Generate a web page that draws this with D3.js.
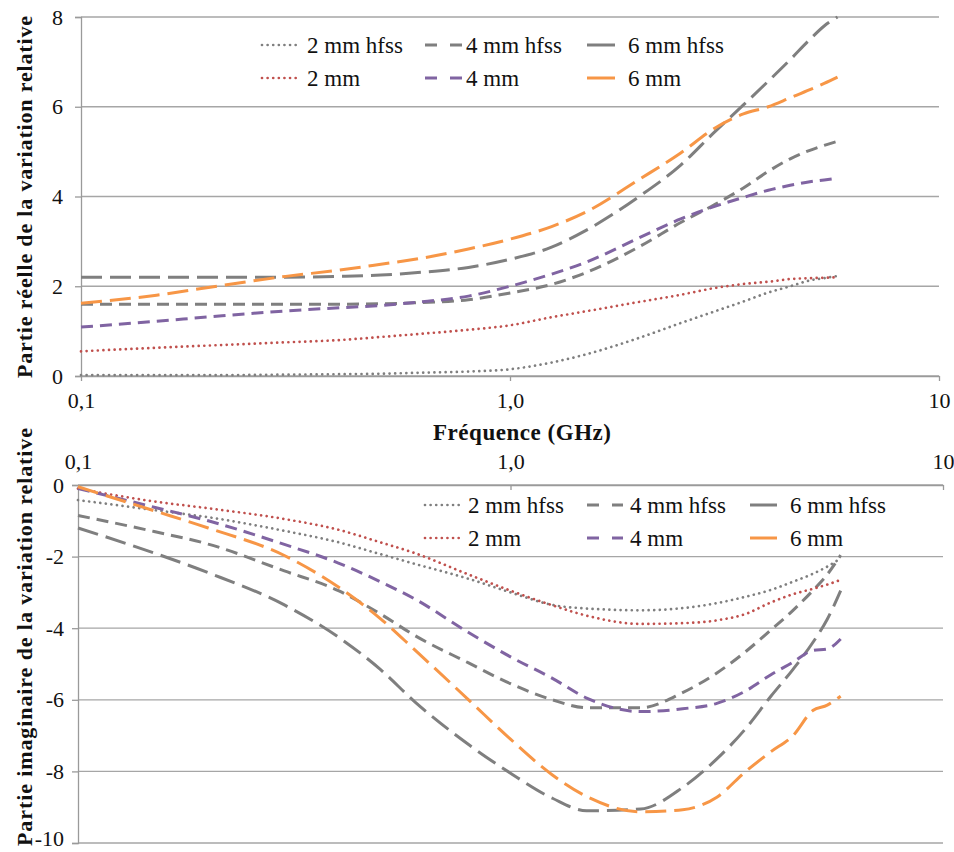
<!DOCTYPE html>
<html><head><meta charset="utf-8">
<script src="https://cdn.jsdelivr.net/npm/d3@7"></script>
<style>
html,body{margin:0;padding:0;background:#fff;}
svg{display:block;}
</style></head>
<body>
<svg id="chart" width="954" height="852"></svg>
<script>
// ---- data ----
const freqs = [0.1,0.15,0.2,0.3,0.4,0.5,0.6,0.8,1,1.25,1.5,2,2.5,3,3.5,4,4.5,5,5.4,5.8];
const seriesNames = ["2 mm hfss","4 mm hfss","6 mm hfss","2 mm","4 mm","6 mm"];
// real part
const re2hfss = [0.02,0.02,0.02,0.03,0.04,0.05,0.07,0.1,0.15,0.3,0.48,0.85,1.18,1.44,1.66,1.86,2.0,2.13,2.18,2.23];
const re4hfss = [1.6,1.6,1.6,1.6,1.6,1.61,1.63,1.7,1.85,2.04,2.3,2.88,3.42,3.82,4.19,4.56,4.84,5.03,5.14,5.23];
const re6hfss = [2.2,2.2,2.2,2.2,2.22,2.25,2.3,2.42,2.6,2.87,3.24,4.0,4.7,5.44,6.04,6.57,7.05,7.5,7.8,8.0];
const re2 = [0.55,0.63,0.68,0.75,0.8,0.87,0.93,1.03,1.13,1.31,1.44,1.65,1.81,1.96,2.05,2.1,2.16,2.18,2.19,2.2];
const re4 = [1.09,1.22,1.32,1.45,1.52,1.57,1.64,1.78,2.0,2.27,2.53,3.08,3.5,3.78,3.98,4.14,4.25,4.33,4.37,4.41];
const re6 = [1.62,1.8,1.98,2.22,2.36,2.49,2.6,2.83,3.05,3.33,3.65,4.38,4.97,5.52,5.84,6.0,6.2,6.38,6.52,6.66];
// imaginary part
const im2hfss = [-0.42,-0.7,-0.9,-1.28,-1.6,-1.93,-2.2,-2.62,-3.0,-3.35,-3.45,-3.5,-3.44,-3.3,-3.12,-2.93,-2.7,-2.48,-2.28,-2.05];
const im4hfss = [-0.85,-1.3,-1.65,-2.4,-2.95,-3.6,-4.2,-4.97,-5.55,-6.0,-6.22,-6.22,-5.8,-5.25,-4.65,-4.05,-3.5,-2.95,-2.5,-1.96];
const im6hfss = [-1.2,-1.9,-2.45,-3.35,-4.25,-5.15,-6.05,-7.25,-8.05,-8.75,-9.1,-9.05,-8.45,-7.65,-6.8,-5.9,-5.15,-4.4,-3.75,-2.95];
const im2 = [-0.1,-0.46,-0.65,-0.95,-1.25,-1.6,-1.9,-2.5,-2.95,-3.36,-3.65,-3.88,-3.86,-3.78,-3.6,-3.28,-3.05,-2.9,-2.78,-2.65];
const im4 = [-0.1,-0.62,-1.0,-1.66,-2.18,-2.7,-3.18,-4.12,-4.8,-5.4,-5.95,-6.33,-6.25,-6.1,-5.75,-5.3,-4.95,-4.62,-4.58,-4.3];
const im6 = [-0.05,-0.72,-1.2,-1.97,-2.85,-3.73,-4.6,-6.0,-7.1,-8.1,-8.7,-9.13,-9.07,-8.72,-8.0,-7.45,-7.0,-6.3,-6.15,-5.9];
// ticks
const xTickValues = [0.1,1,10];
const xTickLabels = ["0,1","1,0","10"];
const reTicks = [0,2,4,6,8];
const imTicks = [0,-2,-4,-6,-8,-10];
const reTitle = "Partie réelle de la variation relative";
const imTitle = "Partie imaginaire de la variation relative";
const xTitle = "Fréquence (GHz)";

// ---- styles ----
const FONT = '"Liberation Serif","Times New Roman",Times,"DejaVu Serif",serif';
const GREY = "#7f7f7f";
const styles = {
  "2 mm hfss": {color: GREY, dash: "0.01,5.6", cap: "round", w: 2.7, legDash: "0.01,5.6"},
  "4 mm hfss": {color: GREY, dash: "12,7", cap: "butt", w: 3, legDash: "12,13"},
  "6 mm hfss": {color: GREY, dash: "21,8", cap: "butt", w: 3, legDash: "40,0"},
  "2 mm": {color: "#c0504d", dash: "0.01,5.6", cap: "round", w: 2.7, legDash: "0.01,5.6"},
  "4 mm": {color: "#8064a2", dash: "12,7", cap: "butt", w: 3, legDash: "12,13"},
  "6 mm": {color: "#f79646", dash: "21,8", cap: "butt", w: 3, legDash: "40,0"}
};
const reSeries = [re2hfss, re4hfss, re6hfss, re2, re4, re6];
const imSeries = [im2hfss, im4hfss, im6hfss, im2, im4, im6];

const svg = d3.select("#chart").attr("font-family", FONT);
const gridColor = "#a6a6a6";
const axisColor = "#9a9a9a";

function panel(cfg){
  const x = d3.scaleLog().domain([0.1,10]).range([cfg.x0, cfg.x1]);
  const y = d3.scaleLinear().domain(cfg.ydom).range([cfg.yb, cfg.yt]);
  const g = svg.append("g");
  g.selectAll("line.grid").data(cfg.yticks).join("line")
    .attr("x1", cfg.x0).attr("x2", cfg.x1)
    .attr("y1", d => y(d)).attr("y2", d => y(d))
    .attr("stroke", gridColor).attr("stroke-width", 1.3);
  const yAxis = d3.axisLeft(y).tickValues(cfg.yticks).tickSize(6).tickPadding(cfg.ypad).tickFormat(d => String(d));
  const ya = g.append("g").attr("transform", `translate(${cfg.x0},0)`).call(yAxis).attr("font-family", FONT);
  ya.select(".domain").attr("stroke", axisColor).attr("stroke-width", 1.3);
  ya.selectAll(".tick line").attr("stroke", axisColor).attr("stroke-width", 1.3);
  ya.selectAll("text").attr("font-size", 22).attr("fill", "#111")
    .attr("dy", d => d === -10 ? "0.12em" : "0.32em");
  const xAxis = (cfg.xTop ? d3.axisTop(x) : d3.axisBottom(x))
    .tickValues(xTickValues).tickSizeInner(cfg.xTop ? -5 : 5).tickSizeOuter(0).tickPadding(cfg.xTop ? 16 : 11)
    .tickFormat((d,i) => xTickLabels[i]);
  const xa = g.append("g").attr("transform", `translate(0,${cfg.xAxisY})`).call(xAxis).attr("font-family", FONT);
  xa.select(".domain").attr("stroke", axisColor).attr("stroke-width", 1.3);
  xa.selectAll(".tick line").attr("stroke", axisColor).attr("stroke-width", 1.3);
  xa.selectAll("text").attr("font-size", 22).attr("fill", "#111");
  const line = d3.line().x(d => x(d[0])).y(d => y(d[1])).curve(d3.curveMonotoneX);
  seriesNames.forEach((name, i) => {
    const st = styles[name];
    const pts = freqs.map((f,k) => [f, cfg.series[i][k]]);
    g.append("path").datum(pts).attr("d", line)
      .attr("fill", "none").attr("stroke", st.color).attr("stroke-width", st.w)
      .attr("stroke-dasharray", st.dash).attr("stroke-linecap", st.cap);
  });
  g.append("text")
    .attr("transform", `translate(${cfg.titleX},${cfg.titleY}) rotate(-90)`)
    .attr("text-anchor", "middle").attr("font-weight", "bold").attr("font-size", cfg.titleSize)
    .attr("textLength", cfg.titleLen).attr("lengthAdjust", "spacing")
    .attr("fill", "#111").text(cfg.title);
  const lg = g.append("g");
  seriesNames.forEach((name, i) => {
    const col = i % 3, row = Math.floor(i / 3);
    const st = styles[name];
    const lx = cfg.legCols[col];
    const ly = cfg.legY + row * 33;
    lg.append("line").attr("x1", lx[0]).attr("x2", lx[1]).attr("y1", ly).attr("y2", ly)
      .attr("stroke", st.color).attr("stroke-width", st.w)
      .attr("stroke-dasharray", st.legDash).attr("stroke-linecap", st.cap);
    lg.append("text").attr("x", lx[2]).attr("y", ly + 8).attr("font-size", 23)
      .attr("fill", "#111").text(name);
  });
}

panel({
  x0: 81, x1: 939, yb: 376, yt: 17, ydom: [0,8], yticks: reTicks, ypad: 12,
  xTop: false, xAxisY: 376, series: reSeries,
  title: reTitle, titleX: 32, titleY: 197, titleSize: 22, titleLen: 362,
  legY: 45, legCols: [[262,300,307],[425,462,466],[587,615,628]]
});
panel({
  x0: 78, x1: 943, yb: 843, yt: 485, ydom: [-10,0], yticks: imTicks, ypad: 8,
  xTop: true, xAxisY: 485, series: imSeries,
  title: imTitle, titleX: 32, titleY: 637, titleSize: 22, titleLen: 418,
  legY: 505, legCols: [[425,462,468],[587,623,630],[750,777,790]]
});
svg.append("text").attr("x", 522).attr("y", 440).attr("text-anchor", "middle")
  .attr("font-weight", "bold").attr("font-size", 23).attr("textLength", 178).attr("lengthAdjust", "spacing")
  .attr("fill", "#111").text(xTitle);
</script>
</body></html>
